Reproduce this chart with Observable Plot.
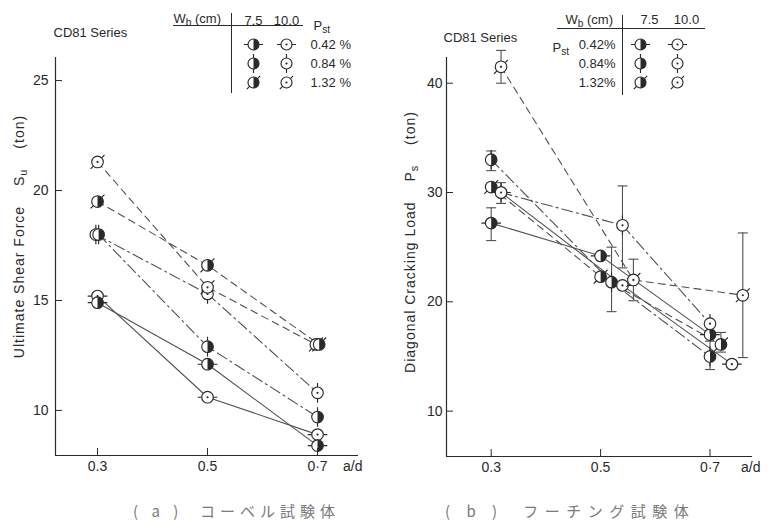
<!DOCTYPE html>
<html>
<head>
<meta charset="utf-8">
<script src="https://cdn.jsdelivr.net/npm/d3@7"></script>
<script src="https://cdn.jsdelivr.net/npm/@observablehq/plot@0.6"></script>
<style>
  html, body { margin: 0; padding: 0; background: #fff; }
  #fig { position: relative; width: 770px; height: 526px; overflow: hidden; background: #fff; }
  #fig svg { position: absolute; top: 0; overflow: visible; background: transparent; }
  .cap { position: absolute; top: 500px; font-family: "Noto Sans CJK JP", sans-serif; font-size: 15px; color: #7a7a7a; white-space: pre; line-height: 22px; }
</style>
</head>
<body>
<div id="fig"></div>
<script>
// ---------------- data ----------------
const xTickValues = [0.3, 0.5, 0.7];
const xTickLabels = ["0.3", "0.5", "0·7"];
const widthsCm = ["7.5", "10.0"];
const pstRatios = ["0.42", "0.84", "1.32"];

// (a) corbel specimens : ultimate shear force Su (ton)
const corbelYTicks = [10, 15, 20, 25];
const corbel_75_042_x = [0.3, 0.5, 0.7];
const corbel_75_042_y = [14.9, 12.1, 8.4];
const corbel_75_084_x = [0.302, 0.5, 0.7];
const corbel_75_084_y = [18.0, 12.9, 9.7];
const corbel_75_132_x = [0.3, 0.5, 0.703];
const corbel_75_132_y = [19.5, 16.6, 13.0];
const corbel_100_042_x = [0.3, 0.5, 0.7];
const corbel_100_042_y = [15.2, 10.6, 8.9];
const corbel_100_084_x = [0.297, 0.5, 0.7];
const corbel_100_084_y = [18.0, 15.3, 10.8];
const corbel_100_132_x = [0.3, 0.5, 0.697];
const corbel_100_132_y = [21.3, 15.6, 13.0];

// (b) footing specimens : diagonal cracking load Ps (ton), with scatter ranges
const footingYTicks = [10, 20, 30, 40];
const footing_75_042_x = [0.30, 0.50, 0.70];
const footing_75_042_y = [27.2, 24.2, 17.0];
const footing_75_042_lo = [25.6, null, null];
const footing_75_042_hi = [28.6, null, null];
const footing_75_084_x = [0.30, 0.52, 0.70];
const footing_75_084_y = [33.0, 21.8, 15.0];
const footing_75_084_lo = [32.0, 19.1, 13.8];
const footing_75_084_hi = [33.8, 25.0, 16.4];
const footing_75_132_x = [0.30, 0.50, 0.72];
const footing_75_132_y = [30.5, 22.3, 16.1];
const footing_75_132_lo = [null, null, 15.4];
const footing_75_132_hi = [null, null, 17.2];
const footing_100_042_x = [0.318, 0.54, 0.74];
const footing_100_042_y = [30.0, 21.5, 14.3];
const footing_100_084_x = [0.318, 0.54, 0.70];
const footing_100_084_y = [30.0, 27.0, 18.0];
const footing_100_084_lo = [29.0, 23.1, null];
const footing_100_084_hi = [30.9, 30.6, null];
const footing_100_132_x = [0.318, 0.56, 0.76];
const footing_100_132_y = [41.5, 22.0, 20.6];
const footing_100_132_lo = [40.0, 20.1, 14.9];
const footing_100_132_hi = [43.0, 23.9, 26.3];

// ---------------- build tables ----------------
function mk(w, p, xs, ys, lo = [], hi = []) {
  return xs.map((x, i) => ({w, p, key: w + "/" + p, x, y: ys[i], lo: lo[i] ?? null, hi: hi[i] ?? null}));
}
const corbelRows = [
  ...mk("7.5", "0.42", corbel_75_042_x, corbel_75_042_y),
  ...mk("7.5", "0.84", corbel_75_084_x, corbel_75_084_y),
  ...mk("7.5", "1.32", corbel_75_132_x, corbel_75_132_y),
  ...mk("10.0", "0.42", corbel_100_042_x, corbel_100_042_y),
  ...mk("10.0", "0.84", corbel_100_084_x, corbel_100_084_y),
  ...mk("10.0", "1.32", corbel_100_132_x, corbel_100_132_y)
];
const footingRows = [
  ...mk("7.5", "0.42", footing_75_042_x, footing_75_042_y, footing_75_042_lo, footing_75_042_hi),
  ...mk("7.5", "0.84", footing_75_084_x, footing_75_084_y, footing_75_084_lo, footing_75_084_hi),
  ...mk("7.5", "1.32", footing_75_132_x, footing_75_132_y, footing_75_132_lo, footing_75_132_hi),
  ...mk("10.0", "0.42", footing_100_042_x, footing_100_042_y),
  ...mk("10.0", "0.84", footing_100_084_x, footing_100_084_y, footing_100_084_lo, footing_100_084_hi),
  ...mk("10.0", "1.32", footing_100_132_x, footing_100_132_y, footing_100_132_lo, footing_100_132_hi)
];

// ---------------- styles & symbols ----------------
const INK = "#2a2a2a";
const LINE = "#505050";
const DASH = {"0.42": null, "0.84": "11,4,2,4", "1.32": "7,5"};
const baseStyle = {fontFamily: '"Liberation Sans", Arial, sans-serif', fontSize: "13px", color: INK, background: "transparent", overflow: "visible"};

const rOf = s => Math.sqrt(s / Math.PI);
const halfRight = {draw(c, s) { const r = rOf(s); c.moveTo(0, -r); c.arc(0, 0, r, -Math.PI / 2, Math.PI / 2); c.closePath(); }};
const SP = 4;
const spikes = {
  "0.42": {draw(c, s) { const r = rOf(s); c.moveTo(-r - SP, 0); c.lineTo(-r, 0); c.moveTo(r, 0); c.lineTo(r + SP, 0); }},
  "0.84": {draw(c, s) { const r = rOf(s); c.moveTo(0, -r - SP); c.lineTo(0, -r); c.moveTo(0, r); c.lineTo(0, r + SP); }},
  "1.32": {draw(c, s) { const r = rOf(s), k = Math.SQRT1_2; c.moveTo(-(r + SP) * k, (r + SP) * k); c.lineTo(-r * k, r * k); c.moveTo(r * k, -r * k); c.lineTo((r + SP) * k, -(r + SP) * k); }}
};
const capSym = {draw(c, s) { const r = rOf(s); c.moveTo(-r, 0); c.lineTo(r, 0); }};

function seriesMarks(rs, r, order) {
  const out = [];
  for (const w of order) for (const p of pstRatios) {
    const d = rs.filter(e => e.w === w && e.p === p);
    if (!d.length) continue;
    out.push(Plot.dot(d, {x: "x", y: "y", r, fill: "white", stroke: INK, strokeWidth: 1.15}));
    out.push(w === "7.5"
      ? Plot.dot(d, {x: "x", y: "y", r, symbol: halfRight, fill: INK, stroke: "none"})
      : Plot.dot(d, {x: "x", y: "y", r: 1.1, fill: INK, stroke: "none"}));
    out.push(Plot.dot(d, {x: "x", y: "y", r, symbol: spikes[p], fill: "none", stroke: INK, strokeWidth: 1.15}));
  }
  return out;
}

function subscripts(svg) {
  svg.querySelectorAll("text").forEach(t => {
    if (t.childElementCount) return;
    const s = t.textContent;
    if (!/\{[^}]*\}/.test(s)) return;
    if (s.includes("(ton)")) t.style.letterSpacing = "1px";
    t.textContent = "";
    s.split(/\{([^}]*)\}/).forEach((part, i) => {
      if (!part) return;
      const ts = document.createElementNS("http://www.w3.org/2000/svg", "tspan");
      ts.textContent = part;
      if (i % 2) { ts.setAttribute("dy", "3"); ts.setAttribute("font-size", "0.78em"); }
      else if (i > 0) ts.setAttribute("dy", "-3");
      t.appendChild(ts);
    });
  });
  return svg;
}

function panel(o) {
  const {rows, xDomain, yDomain, yTicks} = o;
  const marks = [
    ...pstRatios.map(p => Plot.line(rows.filter(e => e.p === p), {
      x: "x", y: "y", z: "key", stroke: LINE, strokeWidth: 1.1, ...(DASH[p] ? {strokeDasharray: DASH[p]} : {})
    }))
  ];
  const errs = rows.filter(e => e.lo != null);
  if (errs.length) {
    marks.push(
      Plot.ruleX(errs, {x: "x", y1: "lo", y2: "hi", stroke: LINE, strokeWidth: 1.1}),
      Plot.dot(errs, {x: "x", y: "lo", r: 5, symbol: capSym, fill: "none", stroke: LINE, strokeWidth: 1.1}),
      Plot.dot(errs, {x: "x", y: "hi", r: 5, symbol: capSym, fill: "none", stroke: LINE, strokeWidth: 1.1})
    );
  }
  marks.push(...seriesMarks(rows, 5.8, o.order));
  marks.push(
    Plot.ruleX([xDomain[0]], {stroke: INK, strokeWidth: 1.2}),
    Plot.ruleY([yDomain[0]], {stroke: INK, strokeWidth: 1.2}),
    Plot.axisY(yTicks, {tickSize: 7, dx: 7, fill: "none", stroke: INK, label: null}),
    Plot.axisY(yTicks, {tickSize: 0, tickPadding: o.yPad, fill: INK, fontSize: 14, label: null}),
    Plot.axisX(xTickValues, {tickSize: 7, dy: -7, fill: "none", stroke: INK, label: null}),
    Plot.axisX(xTickValues, {tickSize: 0, tickPadding: 6, fill: INK, fontSize: 14, label: null,
      tickFormat: d => xTickLabels[xTickValues.indexOf(d)]}),
    Plot.text(["a/d"], {frameAnchor: "bottom-right", textAnchor: "end", lineAnchor: "top", dx: o.adDx, dy: 6, fontSize: 14, fill: INK}),
    Plot.text(["CD81 Series"], {frameAnchor: "top-left", textAnchor: "start", lineAnchor: "middle", dx: o.titleDx, dy: o.titleDy, fontSize: 13, fill: INK}),
    Plot.text([o.yLabel], {frameAnchor: "left", textAnchor: "middle", lineAnchor: "middle", rotate: -90, dx: o.labelDx, dy: o.labelDy, fontSize: 14, fill: INK})
  );
  return Plot.plot({
    width: 385, height: 480,
    marginLeft: o.mL, marginRight: o.mR, marginTop: 57, marginBottom: o.mB,
    x: {domain: xDomain, axis: null},
    y: {domain: yDomain, axis: null},
    style: baseStyle,
    marks
  });
}

function legendRows() { return widthsCm.flatMap(w => pstRatios.map(p => ({w, p, x: w, y: p}))); }

// ---------------- render ----------------
const fig = document.getElementById("fig");

const pa = subscripts(panel({
  rows: corbelRows, xDomain: [0.2236, 0.7745], yDomain: [7.95, 26.05], yTicks: corbelYTicks,
  mL: 55, mR: 27, mB: 25, yPad: 7, adDx: 4, titleDx: -2, titleDy: -25,
  yLabel: "Ultimate Shear Force\u2003 S{u}\u2003 (ton)", labelDx: -36, labelDy: -20,
  order: ["10.0", "7.5"]
}));
pa.style.left = "0px";
fig.appendChild(pa);

const pb = subscripts(panel({
  rows: footingRows, xDomain: [0.2183, 0.7777], yDomain: [5.85, 42.35], yTicks: footingYTicks,
  mL: 61, mR: 18, mB: 24, yPad: 4, adDx: 8, titleDx: -3, titleDy: -20,
  yLabel: "Diagonal Cracking Load\u2003 P{s}\u2003 (ton)", labelDx: -36, labelDy: -15,
  order: ["7.5", "10.0"]
}));
pb.style.left = "385px";
fig.appendChild(pb);

const la = subscripts(Plot.plot({
  width: 385, height: 100,
  marginLeft: 173, marginRight: 82, marginTop: 13, marginBottom: 7,
  x: {type: "point", domain: widthsCm, range: [253, 286], padding: 0, axis: null},
  y: {type: "point", domain: pstRatios, range: [44, 82], padding: 0, axis: null},
  style: baseStyle,
  marks: [
    Plot.ruleY([pstRatios[0]], {dy: -19, stroke: INK, strokeWidth: 1}),
    Plot.ruleX([widthsCm[0]], {dx: -22, stroke: INK, strokeWidth: 1}),
    Plot.text(["W{b} (cm)"], {frameAnchor: "top-left", textAnchor: "start", lineAnchor: "top", dy: 0, fill: INK}),
    Plot.text(widthsCm, {x: d => d, frameAnchor: "top", lineAnchor: "top", dy: 2, fill: INK}),
    Plot.text(["P{st}"], {x: [widthsCm[1]], frameAnchor: "top", textAnchor: "start", lineAnchor: "top", dx: 27, dy: 7, fill: INK}),
    Plot.text(pstRatios, {y: d => d, x: pstRatios.map(() => widthsCm[1]), dx: 24, textAnchor: "start", text: d => d + " %", fill: INK}),
    ...seriesMarks(legendRows(), 5.5, widthsCm)
  ]
}));
la.style.left = "0px";
fig.appendChild(la);

const lb = subscripts(Plot.plot({
  width: 385, height: 100,
  marginLeft: 172, marginRight: 65, marginTop: 15, marginBottom: 5,
  x: {type: "point", domain: widthsCm, range: [255, 292], padding: 0, axis: null},
  y: {type: "point", domain: pstRatios, range: [43, 82], padding: 0, axis: null},
  style: baseStyle,
  marks: [
    Plot.ruleY([pstRatios[0]], {dy: -16, stroke: INK, strokeWidth: 1}),
    Plot.ruleX([widthsCm[0]], {dx: -18, stroke: INK, strokeWidth: 1}),
    Plot.text(["W{b} (cm)"], {frameAnchor: "top-left", textAnchor: "start", lineAnchor: "top", dx: 8, dy: -1, fill: INK}),
    Plot.text(widthsCm, {x: d => d, frameAnchor: "top", lineAnchor: "top", dx: 9, dy: -1, fill: INK}),
    Plot.text(["P{st}"], {x: [widthsCm[0]], y: [pstRatios[0]], dx: -88, dy: 3, textAnchor: "start", fill: INK}),
    Plot.text(pstRatios, {y: d => d, x: pstRatios.map(() => widthsCm[0]), dx: -25, textAnchor: "end", text: d => d + "%", fill: INK}),
    ...seriesMarks(legendRows(), 5.5, widthsCm)
  ]
}));
lb.style.left = "385px";
fig.appendChild(lb);

const capA = document.createElement("div");
capA.className = "cap";
capA.style.left = "133px";
capA.style.letterSpacing = "5px";
capA.textContent = "( a )  コーベル試験体";
fig.appendChild(capA);

const capB = document.createElement("div");
capB.className = "cap";
capB.style.left = "445px";
capB.style.letterSpacing = "6.5px";
capB.textContent = "( b )  フーチング試験体";
fig.appendChild(capB);
</script>
</body>
</html>
